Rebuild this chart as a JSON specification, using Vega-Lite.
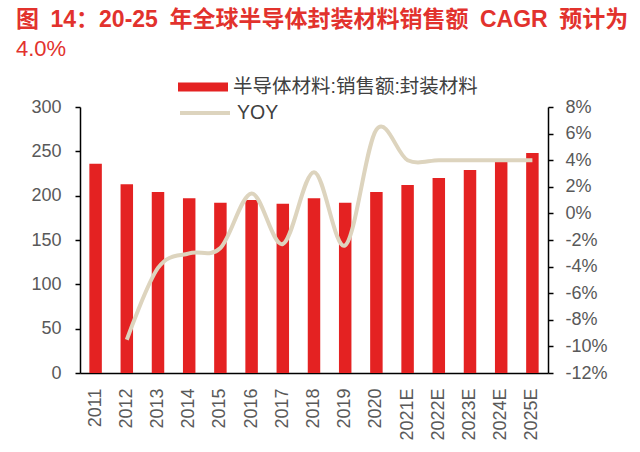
{
  "$schema": "https://vega.github.io/schema/vega-lite/v6.json",
  "width": 468,
  "height": 266,
  "autosize": {"type": "none"},
  "padding": {"left": 80, "top": 107, "right": 92, "bottom": 79},
  "background": "white",
  "title": {
    "text": "图\u200214：20-25\u2002年全球半导体封装材料销售额\u2002CAGR\u2002预计为",
    "subtitle": "4.0%",
    "anchor": "start",
    "frame": "group",
    "orient": "top",
    "dx": -64,
    "offset": 2,
    "font": "Liberation Sans, Noto Sans CJK SC",
    "fontSize": 23,
    "fontWeight": "bold",
    "color": "#E2322D",
    "subtitleFont": "Liberation Sans, Noto Sans CJK SC",
    "subtitleFontSize": 22,
    "subtitleColor": "#E2322D",
    "subtitlePadding": 7
  },
  "config": {
    "view": {"stroke": null},
    "font": "Liberation Sans, Noto Sans CJK SC",
    "axis": {
      "grid": false,
      "domainColor": "#000000",
      "domainWidth": 1.5,
      "tickColor": "#000000",
      "tickWidth": 1.5,
      "labelColor": "#595959",
      "labelFontSize": 18,
      "labelFont": "Liberation Sans",
      "labelPadding": 14,
      "title": null
    },
    "legend": {
      "labelFont": "Liberation Sans, Noto Sans CJK SC",
      "labelFontSize": 19.5,
      "labelColor": "#404040",
      "labelOffset": 5,
      "labelLimit": 0,
      "padding": 0
    }
  },
  "data": {
    "values": [
      {"year": "2011", "sales": 236, "yoy": null},
      {"year": "2012", "sales": 213, "yoy": -0.095},
      {"year": "2013", "sales": 204, "yoy": -0.041},
      {"year": "2014", "sales": 197, "yoy": -0.030},
      {"year": "2015", "sales": 192, "yoy": -0.026},
      {"year": "2016", "sales": 195, "yoy": 0.015},
      {"year": "2017", "sales": 191, "yoy": -0.023},
      {"year": "2018", "sales": 197, "yoy": 0.031},
      {"year": "2019", "sales": 192, "yoy": -0.024},
      {"year": "2020", "sales": 204, "yoy": 0.063},
      {"year": "2021E", "sales": 212, "yoy": 0.040},
      {"year": "2022E", "sales": 220, "yoy": 0.040},
      {"year": "2023E", "sales": 229, "yoy": 0.040},
      {"year": "2024E", "sales": 238, "yoy": 0.040},
      {"year": "2025E", "sales": 248, "yoy": 0.040}
    ]
  },
  "encoding": {
    "x": {
      "field": "year",
      "type": "ordinal",
      "sort": null,
      "scale": {"paddingInner": 0.6, "paddingOuter": 0.3},
      "axis": {"labelAngle": -90, "ticks": false, "labelPadding": 15, "domainWidth": 1.5}
    }
  },
  "layer": [
    {
      "mark": {"type": "bar", "color": "#E42222"},
      "encoding": {
        "y": {
          "field": "sales",
          "type": "quantitative",
          "scale": {"domain": [0, 300]},
          "axis": {"values": [0, 50, 100, 150, 200, 250, 300], "orient": "left", "tickSize": 5, "labelPadding": 14}
        },
        "fill": {
          "datum": "半导体材料:销售额:封装材料",
          "scale": {"range": ["#E42222"]},
          "legend": {
            "orient": "none",
            "legendX": 98,
            "legendY": -45,
            "symbolType": "M-1,-0.18H1V0.18H-1Z",
            "symbolSize": 2500,
            "symbolStrokeWidth": 0,
            "title": null
          }
        }
      }
    },
    {
      "mark": {"type": "line", "strokeWidth": 4, "interpolate": "cardinal", "color": "#DDD4BE"},
      "encoding": {
        "y": {
          "field": "yoy",
          "type": "quantitative",
          "scale": {"domain": [-0.12, 0.08]},
          "axis": {
            "orient": "right",
            "labelExpr": "replace(format(datum.value, '.0%'), '\u2212', '-')",
            "values": [-0.12, -0.1, -0.08, -0.06, -0.04, -0.02, 0, 0.02, 0.04, 0.06, 0.08],
            "tickSize": 5,
            "labelPadding": 12
          }
        },
        "stroke": {
          "datum": "YOY",
          "scale": {"range": ["#DDD4BE"]},
          "legend": {
            "orient": "none",
            "legendX": 98,
            "legendY": -21,
            "symbolType": "stroke",
            "symbolSize": 2500,
            "symbolStrokeWidth": 4,
            "title": null
          }
        }
      }
    }
  ],
  "resolve": {"scale": {"y": "independent"}}
}
